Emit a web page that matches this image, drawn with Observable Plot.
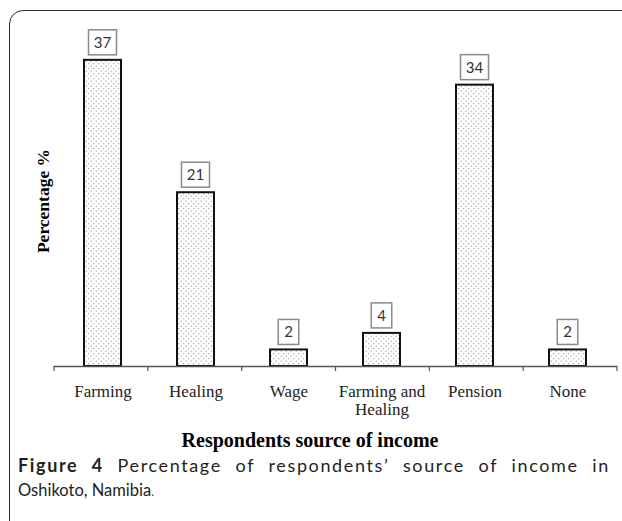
<!DOCTYPE html>
<html>
<head>
<meta charset="utf-8">
<script src="https://cdn.jsdelivr.net/npm/d3@7"></script>
<script src="https://cdn.jsdelivr.net/npm/@observablehq/plot@0.6"></script>
<style>
  html, body { margin: 0; padding: 0; background: #fff; }
  body { width: 622px; height: 521px; overflow: hidden; position: relative; }
  #frame { position: absolute; left: 9px; top: 10px; width: 680px; height: 600px;
           border: 1.5px solid #2b2b2b; border-radius: 14px; box-sizing: border-box; }
  #chart { position: absolute; left: 0; top: 0; }
  #caption { position: absolute; left: 18px; top: 453px; width: 600px;
             font-family: Lato, sans-serif; font-size: 16.5px; color: #231f20;
             line-height: 24px; }
  #caption .l1 { white-space: nowrap; display: inline-block; font-size: 18px; }
  #caption b { font-weight: 700; }
  #caption .dot { font-size: 12px; }
</style>
</head>
<body>
<div id="frame"></div>
<div id="chart"></div>
<div id="caption">
  <div class="l1" id="l1"><b>Figure 4</b> Percentage of respondents’ source of income in</div>
  <div id="l2">Oshikoto, Namibia<span class="dot">.</span></div>
</div>
<script>
const categories = ["Farming", "Healing", "Wage", "Farming and Healing", "Pension", "None"];
const percentages = [37, 21, 2, 4, 34, 2];
const tickLabels = ["Farming", "Healing", "Wage", "Farming and\nHealing", "Pension", "None"];
const xTitle = "Respondents source of income";
const yTitle = "Percentage %";

const data = categories.map((c, i) => ({category: c, value: percentages[i]}));
const labelOf = new Map(categories.map((c, i) => [c, tickLabels[i]]));

// boundary ticks between categories, computed from the band scale
function boundaryTicks(index, scales, values, dimensions) {
  const x = scales.x, y = scales.y;
  const [r0, r1] = x.range ? x.range() : [dimensions.marginLeft, dimensions.width - dimensions.marginRight];
  const n = categories.length;
  const y0 = y(0);
  const g = d3.create("svg:g").attr("stroke", "#555").attr("stroke-width", 1.2);
  for (let i = 0; i <= n; i++) {
    const xx = r0 + (r1 - r0) * i / n;
    g.append("line").attr("x1", xx).attr("x2", xx).attr("y1", y0).attr("y2", y0 + 5);
  }
  return g.node();
}

// value labels with a box around each
function boxedLabels(index, scales, values, dimensions) {
  const x = scales.x, y = scales.y;
  const bw = x.bandwidth ? x.bandwidth() : 0;
  const g = d3.create("svg:g");
  data.forEach(d => {
    const cx = x(d.category) + bw / 2;
    const cy = y(d.value) - 17.5;
    const t = String(d.value);
    const w = 7.5 * t.length + 13, h = 25;
    g.append("rect").attr("x", cx - w / 2).attr("y", cy - h / 2).attr("width", w).attr("height", h)
      .attr("fill", "#fff").attr("stroke", "#8a8a8a").attr("stroke-width", 1.5);
    g.append("text").attr("x", cx).attr("y", cy).attr("dy", "0.36em")
      .attr("text-anchor", "middle").attr("font-family", "Lato").attr("font-size", 15)
      .attr("fill", "#333").text(t);
  });
  return g.node();
}

const chart = Plot.plot({
  width: 622,
  height: 460,
  marginLeft: 54,
  marginRight: 5,
  marginTop: 35,
  marginBottom: 94,
  style: {background: "transparent", overflow: "visible"},
  x: {domain: categories, paddingInner: 0.6, paddingOuter: 0.3, axis: null},
  y: {domain: [0, 40], axis: null},
  marks: [
    Plot.barY(data, {x: "category", y: "value", fill: "url(#dots)", stroke: "#111", strokeWidth: 2}),
    Plot.ruleY([0], {stroke: "#555", strokeWidth: 1.3}),
    boundaryTicks,
    Plot.axisX({tickSize: 0, tickPadding: 17, fontSize: 17, fontFamily: "Liberation Serif",
                tickFormat: d => labelOf.get(d), label: null, lineHeight: 1.1, fill: "#222"}),
    boxedLabels,
    Plot.text([xTitle], {frameAnchor: "bottom", text: d => d, dx: -26, dy: 74,
                         lineAnchor: "middle", fontSize: 20, fontWeight: "bold",
                         fontFamily: "Liberation Serif", fill: "#000"}),
    Plot.text([yTitle], {frameAnchor: "left", text: d => d, rotate: -90, dx: -11,
                         textAnchor: "middle", lineAnchor: "middle", fontSize: 17.5, fontWeight: "bold",
                         fontFamily: "Liberation Serif", fill: "#000"})
  ]
});

document.getElementById("chart").appendChild(chart);

// pattern definition for the dotted bar fill
const svg = d3.select(chart);
const pat = svg.insert("defs", ":first-child").append("pattern")
  .attr("id", "dots").attr("patternUnits", "userSpaceOnUse")
  .attr("width", 5).attr("height", 5);
pat.append("rect").attr("width", 5).attr("height", 5).attr("fill", "#fff");
pat.append("circle").attr("cx", 1.2).attr("cy", 1.2).attr("r", 0.65).attr("fill", "#9a9a9a");
pat.append("circle").attr("cx", 3.7).attr("cy", 3.7).attr("r", 0.65).attr("fill", "#9a9a9a");

// justify caption line 1 across the caption width: part letter spacing, rest word spacing
const l1 = document.getElementById("l1");
const target = 592;
l1.style.letterSpacing = "0px";
l1.style.wordSpacing = "0px";
const w0 = l1.getBoundingClientRect().width;
const text1 = l1.textContent;
const nChars = text1.length;
const nSpaces = (text1.match(/ /g) || []).length;
const ls = 0.6 * (target - w0) / nChars;
l1.style.letterSpacing = ls + "px";
const w1 = l1.getBoundingClientRect().width;
l1.style.wordSpacing = ((target - w1) / nSpaces) + "px";
</script>
</body>
</html>
